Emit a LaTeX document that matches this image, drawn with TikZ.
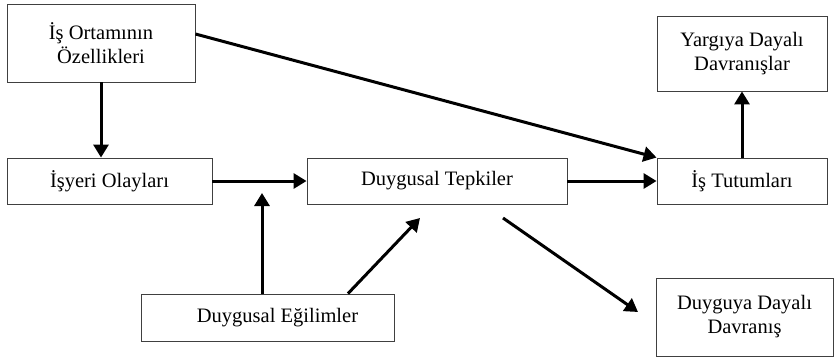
\documentclass[tikz,border=0pt]{standalone}
\usepackage{fontspec}
\setmainfont{Liberation Serif}
\usetikzlibrary{arrows.meta,calc}
\begin{document}
\begin{tikzpicture}[x=1pt,y=-1pt,
  box/.style={draw=black!75,line width=0.9pt,fill=white,align=center,inner sep=0pt,
    font=\fontsize{20.5}{24}\selectfont},
  conn/.style={line width=3pt,-{Triangle[length=13pt,width=15pt]}}]
\useasboundingbox (0,0) rectangle (834,361);
\node[box,minimum width=188pt,minimum height=78pt] (ortam) at (101,43) {İş Ortamının\\Özellikleri};
\node[box,minimum width=170pt,minimum height=75pt] (yargi) at (742,53.5) {Yargıya Dayalı\\Davranışlar};
\node[box,minimum width=205pt,minimum height=46pt] (isyeri) at (109.5,181) {İşyeri Olayları};
\node[box,minimum width=260pt,minimum height=46pt] (tepki) at (437,181) {Duygusal Tepkiler};
\node[box,minimum width=170pt,minimum height=46pt] (tutum) at (742,181) {İş Tutumları};
\node[box,minimum width=253pt,minimum height=47pt] (egilim) at (267.5,317.5) {\hspace*{20pt}Duygusal Eğilimler};
\node[box,minimum width=177pt,minimum height=78pt] (duyguya) at (744.5,317) {Duyguya Dayalı\\Davranış};
\coordinate (e1) at (262,193);
\coordinate (e2) at (420,218);
\coordinate (t1) at (503,218);
\coordinate (t2) at (638,312);
\draw[conn] (ortam.south) -- (ortam.south |- isyeri.north);
\draw[conn] ($(ortam.east)+(0,-9)$) -- (tutum.north west);
\draw[conn] (isyeri.east) -- (tepki.west);
\draw[conn] (tepki.east) -- (tutum.west);
\draw[conn] (tutum.north) -- (yargi.south);
\draw[conn] (egilim.north -| e1) -- (e1);
\draw[conn] ($(egilim.north)+(80.5,0)$) -- (e2);
\draw[conn] (t1) -- (t2);
\end{tikzpicture}
\end{document}
